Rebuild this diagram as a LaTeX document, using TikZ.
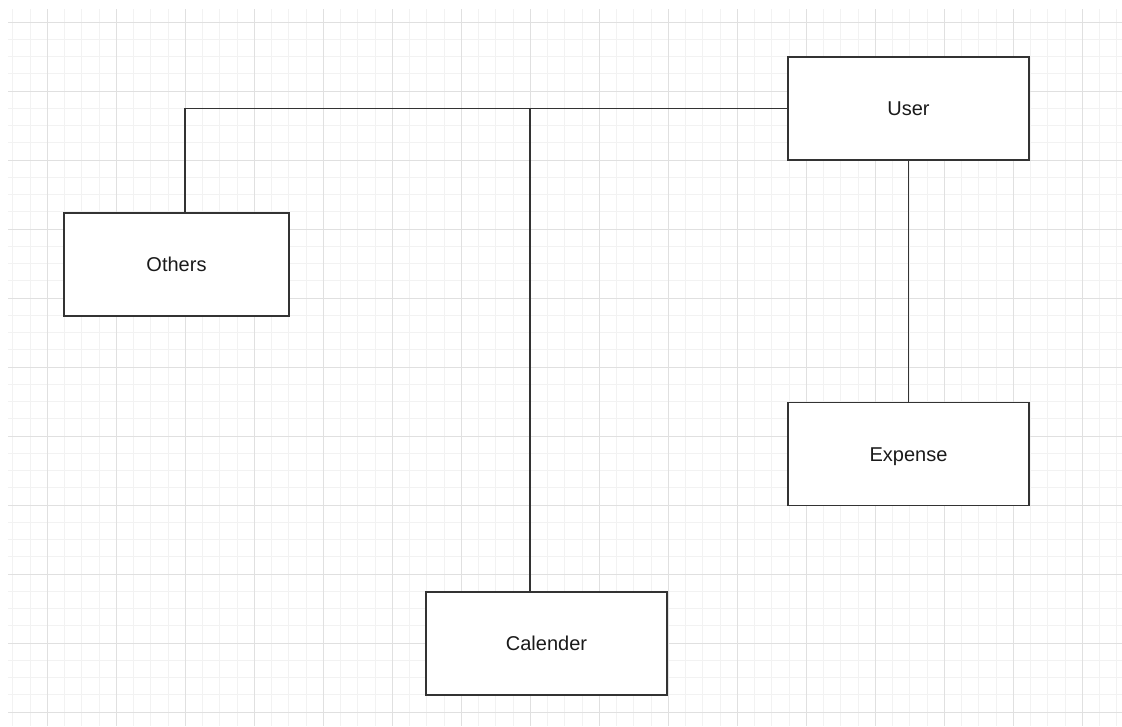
\documentclass[tikz,border=0pt]{standalone}
\usepackage{fontspec}
\setmainfont{Liberation Sans}
\definecolor{gridmajor}{HTML}{E0E0E0}
\definecolor{gridminor}{HTML}{F2F2F2}
\definecolor{boxline}{HTML}{333333}
\definecolor{txt}{HTML}{1A1A1A}
\tikzset{
  entity/.style={draw=boxline, fill=white, line width=1.6pt, rectangle, inner sep=0pt,
    minimum width=241pt, minimum height=103pt, text=txt,
    text height=14.3pt, text depth=0pt,
    font=\fontsize{20}{24}\selectfont},
  link/.style={draw=boxline, line width=1.6pt}
}
\begin{document}
\begin{tikzpicture}[x=1pt,y=-1pt]
\useasboundingbox (0,0) rectangle (1122,726);
\fill[white] (0,0) rectangle (1122,726);
\begin{scope}
\clip (8,9) rectangle (1122,726);
\foreach \i in {0,...,64} {
  \draw[gridminor, line width=1pt] (12.8+17.25*\i,0) -- (12.8+17.25*\i,726);
}
\foreach \j in {0,...,40} {
  \draw[gridminor, line width=1pt] (0,22+17.25*\j) -- (1122,22+17.25*\j);
}
\foreach \i in {0,...,15} {
  \draw[gridmajor, line width=1pt] (47.3+69*\i,0) -- (47.3+69*\i,726);
}
\foreach \j in {0,...,10} {
  \draw[gridmajor, line width=1pt] (0,22+69*\j) -- (1122,22+69*\j);
}
\end{scope}
\node[entity] (user) at (908.5,108.5) {User};
\node[entity, minimum width=225pt] (others) at (176.5,264.5) {Others};
\node[entity] (expense) at (908.5,454) {Expense};
\node[entity] (calender) at (546.5,643.5) {Calender};
\draw[link] (user.west) -| ([xshift=8.5pt]others.north);
\draw[link] ([xshift=-16.5pt]calender.north) |- (user.west);
\draw[link] (user.south) -- (expense.north);
\end{tikzpicture}
\end{document}
